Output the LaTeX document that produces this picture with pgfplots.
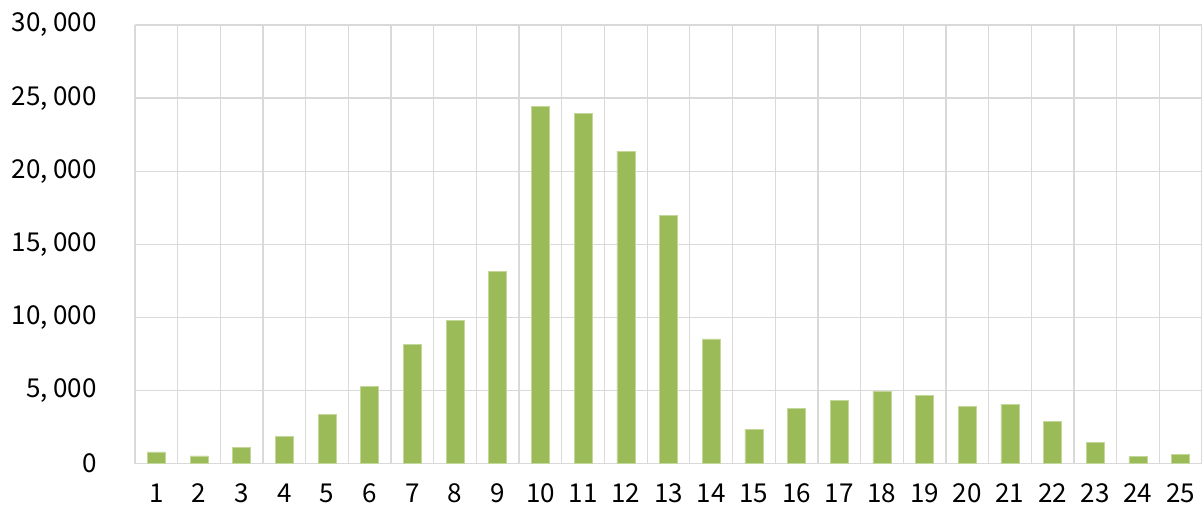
\documentclass[border=0pt]{standalone}
\usepackage{fontspec}
\setmainfont{Noto Sans CJK JP}
\usepackage{pgfplots}
\pgfplotsset{compat=1.18}
\definecolor{bargreen}{HTML}{9BBB59}
\definecolor{baredge}{HTML}{C4D79B}
\definecolor{gridgray}{HTML}{D9D9D9}
\begin{document}
\begin{tikzpicture}
\useasboundingbox (0,0) rectangle (1202pt,507pt);
\begin{axis}[
  at={(135pt,43.5pt)}, anchor=south west,
  scale only axis,
  width=1067pt, height=438.5pt,
  xmin=0.5, xmax=25.5,
  ymin=0, ymax=30000,
  scaled y ticks=false,
  xtick={1,...,25},
  minor xtick={0.5,1.5,...,25.5},
  ytick={0,5000,10000,15000,20000,25000,30000},
  yticklabels={0,{5, 000},{10, 000},{15, 000},{20, 000},{25, 000},{30, 000}},
  xminorgrids, ymajorgrids,
  grid style={draw=gridgray, line width=1.3pt},
  minor grid style={draw=gridgray, line width=1.3pt},
  axis line style={draw=none},
  major tick length=0pt, minor tick length=0pt,
  tick style={draw=none},
  /pgf/number format/assume math mode=true,
  tick label style={font=\fontsize{26}{30}\selectfont, text=black},
  yticklabel style={anchor=east, inner sep=0pt, xshift=-38pt},
  xticklabel style={anchor=north, inner sep=0pt, yshift=-20pt},
  clip=false,
]
\addplot[ybar, bar width=18pt, fill=bargreen, draw=baredge, line width=0.6pt]
coordinates {
(1,790) (2,520) (3,1100) (4,1860) (5,3340) (6,5300) (7,8170) (8,9770)
(9,13170) (10,24450) (11,23930) (12,21370) (13,16980) (14,8520) (15,2340)
(16,3780) (17,4340) (18,4940) (19,4660) (20,3910) (21,4070) (22,2860)
(23,1450) (24,470) (25,600)
};
\end{axis}
\end{tikzpicture}
\end{document}
